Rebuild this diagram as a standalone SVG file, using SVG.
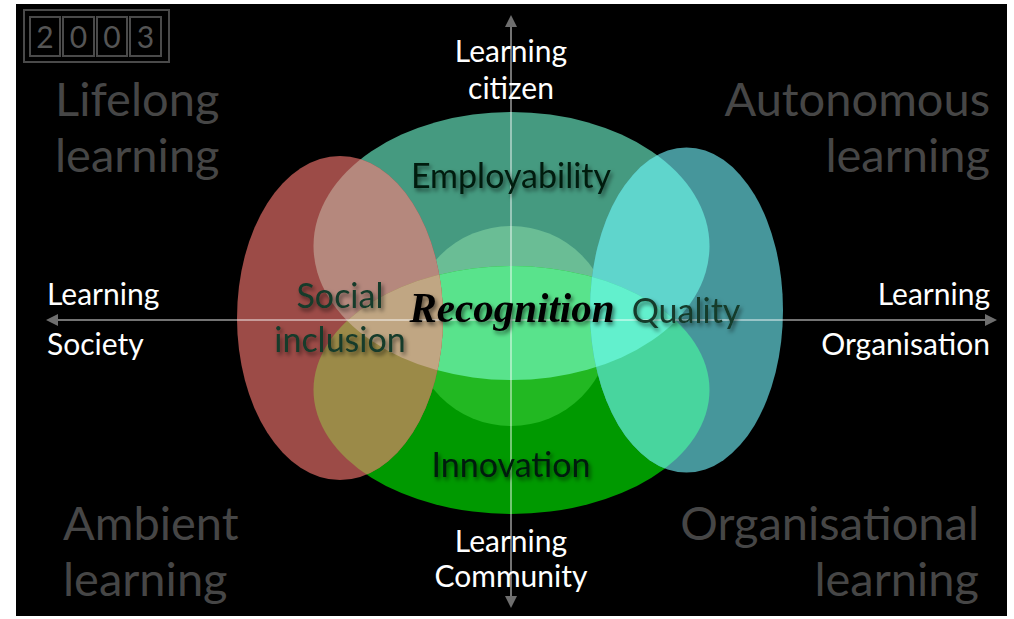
<svg xmlns="http://www.w3.org/2000/svg" xmlns:xlink="http://www.w3.org/1999/xlink" width="1014" height="619" viewBox="0 0 1014 619">
<style>
.corner{font-family:Lato,"Open Sans","Noto Sans",sans-serif;font-size:47px;fill:#464646}
.axis-label{font-family:Lato,"Open Sans","Noto Sans",sans-serif;font-size:30px;fill:#ffffff}
.node-label{font-family:Lato,"Open Sans","Noto Sans",sans-serif;font-size:34px;filter:url(#shadow)}
.dark{fill:#061a0e}
.deep{fill:#133a2a}
.digit{font-family:Lato,"Open Sans",sans-serif;font-size:30px;fill:#555555;text-anchor:middle}
.box{fill:none;stroke:#4a4a4a;stroke-width:2}
.axis{stroke:#ffffff;stroke-opacity:0.45;stroke-width:2;fill:none}
</style>
<defs>
<filter id="shadow" x="-10%" y="-30%" width="130%" height="180%">
<feDropShadow dx="2" dy="3" stdDeviation="2" flood-color="#000" flood-opacity="0.55"/>
</filter>
<clipPath id="cT"><ellipse cx="511.5" cy="246" rx="198" ry="134"/></clipPath>
<clipPath id="cG"><ellipse cx="511.5" cy="390" rx="198" ry="124"/></clipPath>
<ellipse id="eT" cx="511.5" cy="246" rx="198" ry="134"/>
<ellipse id="eG" cx="511.5" cy="390" rx="198" ry="124"/>
<circle id="eC" cx="511" cy="326" r="100"/>
<ellipse id="eR" cx="340" cy="318" rx="103" ry="162"/>
<ellipse id="eB" cx="686.5" cy="310" rx="96.5" ry="162.5"/>
<marker id="arr" viewBox="0 0 12 12" refX="10" refY="6" markerWidth="12" markerHeight="12" markerUnits="userSpaceOnUse" orient="auto-start-reverse">
<path d="M0,0 L12,6 L0,12 Z" fill="#6e6e6e"/>
</marker>
</defs>
<rect x="0" y="0" width="1014" height="619" fill="#ffffff"/>
<rect x="16" y="4" width="991" height="612" fill="#000000"/>

<g id="year">
<rect class="box" x="24" y="10" width="145" height="52"/>
<rect class="box" x="30" y="17" width="30" height="39" stroke-width="1"/>
<rect class="box" x="63" y="17" width="31" height="39" stroke-width="1"/>
<rect class="box" x="97" y="17" width="30" height="39" stroke-width="1"/>
<rect class="box" x="130" y="17" width="31" height="39" stroke-width="1"/>
<text class="digit" x="45" y="48">2</text>
<text class="digit" x="78.5" y="48">0</text>
<text class="digit" x="112" y="48">0</text>
<text class="digit" x="145.5" y="48">3</text>
</g>

<g id="corners">
<text class="corner" x="55" y="116">Lifelong</text>
<text class="corner" x="55" y="172">learning</text>
<text class="corner" x="990" y="116" text-anchor="end">Autonomous</text>
<text class="corner" x="990" y="172" text-anchor="end">learning</text>
<text class="corner" x="63" y="540">Ambient</text>
<text class="corner" x="63" y="596">learning</text>
<text class="corner" x="979" y="540" text-anchor="end">Organisational</text>
<text class="corner" x="979" y="596" text-anchor="end">learning</text>
</g>

<g id="employability">
<use xlink:href="#eT" fill="#459a80"/>
</g>
<g id="innovation">
<use xlink:href="#eG" fill="#009900"/>
<g clip-path="url(#cT)"><use xlink:href="#eG" fill="#55e088"/></g>
</g>
<g id="recognition">
<g clip-path="url(#cT)"><use xlink:href="#eC" fill="#6abd95"/></g>
<g clip-path="url(#cG)"><use xlink:href="#eC" fill="#22b822"/></g>
<g clip-path="url(#cT)"><g clip-path="url(#cG)"><use xlink:href="#eC" fill="#59e38c"/></g></g>
</g>
<g id="social-inclusion">
<use xlink:href="#eR" fill="#9c4b47"/>
<g clip-path="url(#cT)"><use xlink:href="#eR" fill="#b5887d"/></g>
<g clip-path="url(#cG)"><use xlink:href="#eR" fill="#9b8a48"/></g>
<g clip-path="url(#cT)"><g clip-path="url(#cG)"><use xlink:href="#eR" fill="#c0a683"/></g></g>
</g>
<g id="quality">
<use xlink:href="#eB" fill="#46969b"/>
<g clip-path="url(#cT)"><use xlink:href="#eB" fill="#5fd5cc"/></g>
<g clip-path="url(#cG)"><use xlink:href="#eB" fill="#48d59e"/></g>
<g clip-path="url(#cT)"><g clip-path="url(#cG)"><use xlink:href="#eB" fill="#62f0cd"/></g></g>
</g>

<g id="connectors">
<line class="axis" x1="48" y1="320" x2="995" y2="320" marker-start="url(#arr)" marker-end="url(#arr)"/>
<line class="axis" x1="511" y1="17" x2="511" y2="606" marker-start="url(#arr)" marker-end="url(#arr)"/>
</g>

<g id="axis-labels">
<text class="axis-label" x="47" y="305">Learning</text>
<text class="axis-label" x="47" y="355">Society</text>
<text class="axis-label" x="990" y="305" text-anchor="end">Learning</text>
<text class="axis-label" x="990" y="355" text-anchor="end">Organisation</text>
<text class="axis-label" x="511" y="62" text-anchor="middle">Learning</text>
<text class="axis-label" x="511" y="99" text-anchor="middle">citizen</text>
<text class="axis-label" x="511" y="552" text-anchor="middle">Learning</text>
<text class="axis-label" x="511" y="587" text-anchor="middle">Community</text>
</g>

<g id="node-labels">
<text class="node-label dark" x="511" y="188" text-anchor="middle">Employability</text>
<text class="node-label deep" x="340" y="308" text-anchor="middle">Social</text>
<text class="node-label deep" x="340" y="352" text-anchor="middle">inclusion</text>
<text class="node-label deep" x="686" y="323" text-anchor="middle">Quality</text>
<text class="node-label dark" x="511" y="477" text-anchor="middle">Innovation</text>
<text x="512" y="322" text-anchor="middle" font-family="'Liberation Serif',serif" font-style="italic" font-weight="bold" font-size="42" textLength="205" lengthAdjust="spacingAndGlyphs" fill="#000000" filter="url(#shadow)">Recognition</text>
</g>
</svg>
